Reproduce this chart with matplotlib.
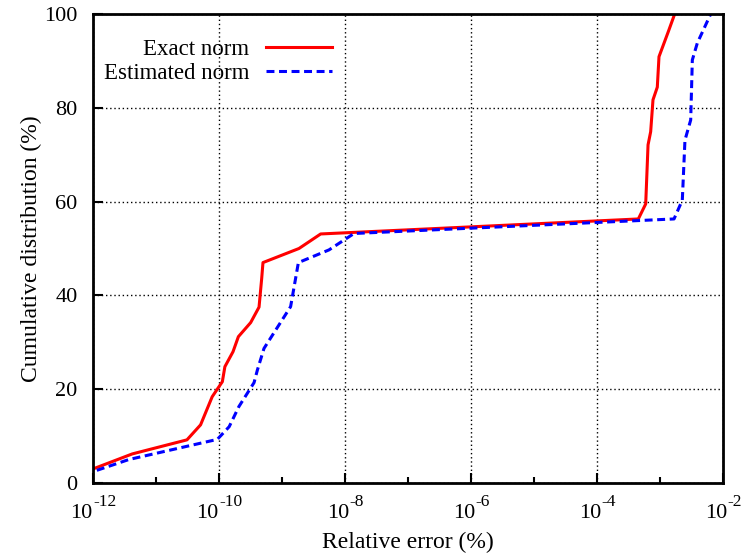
import math
import matplotlib
matplotlib.use("Agg")
import matplotlib.pyplot as plt
from matplotlib.ticker import FixedLocator, NullFormatter
from matplotlib.transforms import offset_copy

plt.rcParams['font.family'] = ['Liberation Serif', 'DejaVu Serif']

# Data
exact_x = [1.0e-12, 4.2e-12, 3.1e-11, 5.1e-11, 7.8e-11, 1.13e-10, 1.24e-10, 1.67e-10,
           2.03e-10, 3.18e-10, 4.32e-10, 4.76e-10, 4.99e-10, 1.86e-9, 4.11e-9,
           4.53e-4, 5.93e-4, 6.46e-4, 7.11e-4, 7.74e-4, 9.06e-4, 9.64e-4, 1.36e-3, 1.71e-3]
exact_y = [3.0, 6.2, 9.2, 12.4, 18.4, 21.6, 24.8, 28.0,
           31.2, 34.2, 37.5, 43.6, 47.0, 50.0, 53.1,
           56.3, 59.5, 72.1, 74.9, 81.7, 84.4, 90.9, 96.3, 100.0]

est_x = [1.15e-12, 3.7e-12, 9.4e-11, 1.45e-10, 2.07e-10, 3.6e-10, 4.07e-10, 5.18e-10,
         1.37e-9, 1.82e-9, 5.57e-9, 1.39e-8,
         1.67e-3, 2.26e-3, 2.49e-3, 3.07e-3, 3.26e-3, 3.91e-3, 6.38e-3]
est_y = [2.7, 5.0, 9.3, 12.0, 16.3, 21.4, 24.1, 28.7,
         37.6, 47.0, 49.7, 53.2,
         56.3, 60.3, 73.1, 77.4, 90.2, 93.8, 100.0]

labels = ["Exact norm", "Estimated norm"]
x_major = [1e-12, 1e-10, 1e-8, 1e-6, 1e-4, 1e-2]
x_minor = [1e-11, 1e-9, 1e-7, 1e-5, 1e-3]
y_ticks = [0, 20, 40, 60, 80, 100]

fig = plt.figure(figsize=(7.46, 5.58), dpi=100)
ax = fig.add_axes([93/746, 1-483/558, (723-93)/746, (483-14)/558])

ax.plot(exact_x, exact_y, color='#ff0000', lw=2.2, label=labels[0])
ax.plot(est_x, est_y, color='#0000ff', lw=2.2, dashes=[2.6, 1.5], label=labels[1])

ax.set_xscale('log')
ax.set_xlim(1e-12, 1e-2)
ax.set_ylim(0, 100)

ax.xaxis.set_major_locator(FixedLocator(x_major))
ax.xaxis.set_major_formatter(NullFormatter())
ax.xaxis.set_minor_locator(FixedLocator(x_minor))
ax.xaxis.set_minor_formatter(NullFormatter())
ax.yaxis.set_major_locator(FixedLocator(y_ticks))

# gnuplot-style tick labels: "10" with a large superscript exponent
base_fs = 16
sup_fs = 12.5
px = 72.0 / fig.dpi  # points per pixel
xtrans = ax.get_xaxis_transform()
for v in x_major:
    e = str(int(round(math.log10(v))))
    w10 = 1.0 * base_fs
    wsup = sum(0.333 if c == '-' else 0.5 for c in e) * sup_fs
    shift = (w10 - wsup) / 2.0
    ax.text(v, 0, '10', fontsize=base_fs, ha='right', va='baseline',
            transform=offset_copy(xtrans, fig, x=shift, y=-35 * px, units='points'),
            clip_on=False)
    ax.text(v, 0, e, fontsize=sup_fs, ha='left', va='baseline',
            transform=offset_copy(xtrans, fig, x=shift + 0.5, y=-23 * px, units='points'),
            clip_on=False)

ax.grid(True, which='major', color='black', linestyle=(0, (1, 2)), linewidth=1.0)

for sp in ax.spines.values():
    sp.set_linewidth(2.0)

ax.tick_params(axis='both', which='major', direction='in', length=7, width=1.5,
               top=False, right=False)
ax.tick_params(axis='y', which='major', labelsize=16, pad=11)
ax.tick_params(axis='x', which='minor', direction='in', length=4, width=1.5,
               top=False)
ax.tick_params(axis='y', which='minor', left=False, right=False)

ax.set_xlabel("Relative error (%)", fontsize=17, labelpad=32)
ax.set_ylabel("Cumulative distribution (%)", fontsize=17, labelpad=2)

leg = ax.legend(loc='upper right', bbox_to_anchor=((332-93)/630, 0.946), frameon=False,
                markerfirst=False, fontsize=16.5, handlelength=2.9,
                handletextpad=0.7, labelspacing=0.1, borderaxespad=0.0, borderpad=0.0)
for t in leg.get_texts():
    t.set_ha('right')
leg._legend_box.align = "right"

fig.savefig("out.png", dpi=100)
